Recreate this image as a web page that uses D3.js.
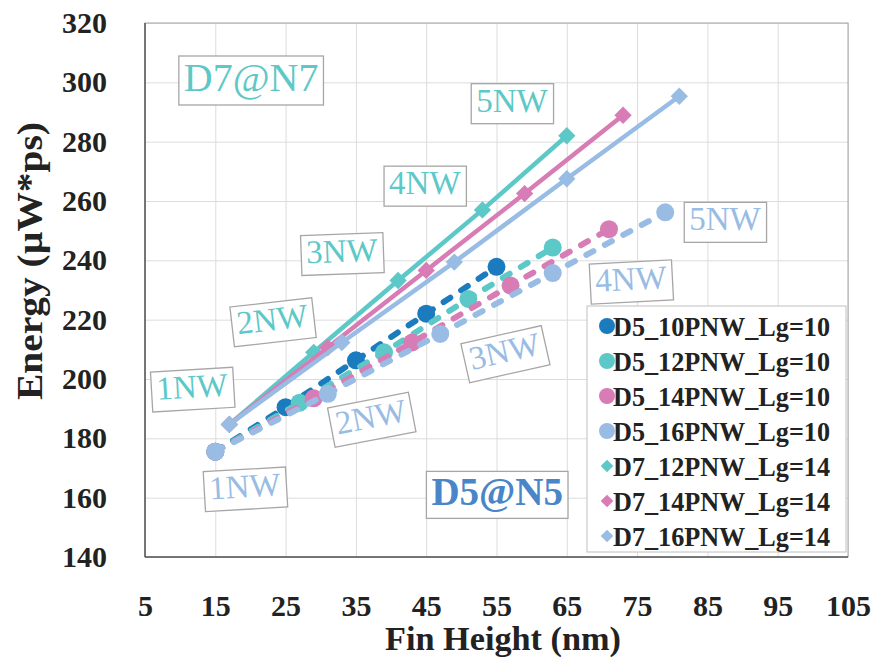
<!DOCTYPE html>
<html>
<head>
<meta charset="utf-8">
<script src="https://cdn.jsdelivr.net/npm/d3@7/dist/d3.min.js"></script>
<style>
body { margin: 0; background: #fff; }
text { font-family: "Liberation Serif", "DejaVu Serif", serif; }
</style>
</head>
<body>
<svg id="chart" width="878" height="659"></svg>
<script>
// axis ticks
var xTicks = [5, 15, 25, 35, 45, 55, 65, 75, 85, 95, 105];
var yTicks = [140, 160, 180, 200, 220, 240, 260, 280, 300, 320];

// series (fin height in nm, energy in uW*ps)
var names = ["D5_10PNW_Lg=10", "D5_12PNW_Lg=10", "D5_14PNW_Lg=10", "D5_16PNW_Lg=10",
	"D7_12PNW_Lg=14", "D7_14PNW_Lg=14", "D7_16PNW_Lg=14"];
var colors = ["#1a7cbf", "#5dc8c8", "#d87cb5", "#98bce4", "#5dc8c8", "#d87cb5", "#98bce4"];

var finD5_10 = [15, 25, 35, 45, 55];
var finD5_12 = [15, 27, 39, 51, 63];
var finD5_14 = [15, 29, 43, 57, 71];
var finD5_16 = [15, 31, 47, 63, 79];
var finD7_12 = [17, 29, 41, 53, 65];
var finD7_14 = [17, 31, 45, 59, 73];
var finD7_16 = [17, 33, 49, 65, 81];

var energyD5_10 = [175.5, 190.5, 206.3, 222.0, 237.8];
var energyD5_12 = [175.5, 192.0, 209.0, 227.0, 244.3];
var energyD5_14 = [175.5, 193.5, 212.3, 231.5, 250.5];
var energyD5_16 = [175.5, 195.0, 215.2, 235.7, 256.2];
var energyD7_12 = [184.7, 209.0, 233.2, 257.0, 282.0];
var energyD7_14 = [184.7, 210.6, 236.6, 262.5, 288.9];
var energyD7_16 = [184.7, 212.3, 239.4, 267.5, 295.3];

var fins = [finD5_10, finD5_12, finD5_14, finD5_16, finD7_12, finD7_14, finD7_16];
var energies = [energyD5_10, energyD5_12, energyD5_14, energyD5_16, energyD7_12, energyD7_14, energyD7_16];

// text boxes on the plot: [text, fin, energy, rotation, color, size, bold]
var notes = [
	["D7@N7", 20.1, 301.8, 0, "#5dc8c8", 40, false],
	["1NW", 11.7, 197.6, -3.3, "#5dc8c8", 33, false],
	["2NW", 23.1, 220.3, -6.5, "#5dc8c8", 33, false],
	["3NW", 33.0, 243.3, -2, "#5dc8c8", 33, false],
	["4NW", 44.8, 266.2, 0, "#5dc8c8", 33, false],
	["5NW", 57.2, 294.0, 0, "#5dc8c8", 33, false],
	["1NW", 19.2, 164.0, -3.3, "#98bce4", 33, false],
	["2NW", 37.1, 187.4, -10.9, "#98bce4", 33, false],
	["3NW", 56.1, 209.5, -12.7, "#98bce4", 33, false],
	["4NW", 74.1, 233.9, -3, "#98bce4", 33, false],
	["5NW", 87.5, 254.0, 0, "#98bce4", 33, false],
	["D5@N5", 55.1, 162.0, 0, "#4a85c8", 39, true]
];

var svg = d3.select("#chart");
var margin = {top: 23, right: 30, bottom: 102, left: 145};
var width = 878 - margin.left - margin.right;
var height = 659 - margin.top - margin.bottom;

var x = d3.scaleLinear().domain([5, 105]).range([0, width]);
var y = d3.scaleLinear().domain([140, 320]).range([height, 0]);

var g = svg.append("g")
	.attr("transform", "translate(" + margin.left + "," + margin.top + ")");

// grid
g.append("g")
	.attr("transform", "translate(0," + height + ")")
	.call(d3.axisBottom(x).tickValues(xTicks).tickSize(-height).tickFormat(""))
	.call(s => s.select(".domain").remove())
	.selectAll("line").attr("stroke", "#dcdcdc");
g.append("g")
	.call(d3.axisLeft(y).tickValues(yTicks).tickSize(-width).tickFormat(""))
	.call(s => s.select(".domain").remove())
	.selectAll("line").attr("stroke", "#dcdcdc");

// frame
g.append("rect")
	.attr("width", width).attr("height", height)
	.attr("fill", "none").attr("stroke", "#a6a6a6");
g.append("line").attr("x1", 0).attr("x2", 0).attr("y1", 0).attr("y2", height)
	.attr("stroke", "#595959").attr("stroke-width", 1.5);
g.append("line").attr("x1", 0).attr("x2", width).attr("y1", height).attr("y2", height)
	.attr("stroke", "#595959").attr("stroke-width", 1.5);

// tick labels
var xAxis = g.append("g")
	.attr("transform", "translate(0," + height + ")")
	.call(d3.axisBottom(x).tickValues(xTicks).tickSize(0).tickPadding(38));
xAxis.select(".domain").remove();
xAxis.selectAll("text")
	.attr("font-size", 30).attr("font-weight", "bold").attr("fill", "#222");

var yAxis = g.append("g")
	.call(d3.axisLeft(y).tickValues(yTicks).tickSize(0).tickPadding(38));
yAxis.select(".domain").remove();
yAxis.selectAll("text")
	.attr("font-size", 30).attr("font-weight", "bold").attr("fill", "#222");

// axis titles
svg.append("text")
	.attr("x", 503).attr("y", 650)
	.attr("text-anchor", "middle")
	.attr("font-size", 33).attr("font-weight", "bold").attr("fill", "#222")
	.attr("textLength", 236).attr("lengthAdjust", "spacingAndGlyphs")
	.text("Fin Height (nm)");
svg.append("text")
	.attr("transform", "translate(42,261) rotate(-90)")
	.attr("text-anchor", "middle")
	.attr("font-size", 35).attr("font-weight", "bold").attr("fill", "#222")
	.attr("textLength", 278).attr("lengthAdjust", "spacingAndGlyphs")
	.text("Energy (µW*ps)");

// text boxes
notes.forEach(function(n) {
	var t = g.append("g")
		.attr("transform", "translate(" + x(n[1]) + "," + y(n[2]) + ") rotate(" + n[3] + ")");
	var rect = t.append("rect").attr("fill", "#fff").attr("stroke", "#a6a6a6").attr("stroke-width", 1.3);
	var txt = t.append("text")
		.attr("text-anchor", "middle").attr("dy", "0.35em")
		.attr("font-size", n[5]).attr("font-weight", n[6] ? "bold" : "normal")
		.attr("fill", n[4]).text(n[0]);
	var bb = txt.node().getBBox();
	rect.attr("x", bb.x - 5).attr("y", bb.y + 1).attr("width", bb.width + 10).attr("height", bb.height + 4);
});

// series lines and markers
var line = d3.line().x(d => x(d[0])).y(d => y(d[1]));
var diamond = d3.symbol().type(d3.symbolSquare).size(150);

names.forEach(function(name, i) {
	var pts = fins[i].map((f, j) => [f, energies[i][j]]);
	var dashed = name.indexOf("D5") === 0;
	g.append("path")
		.datum(pts)
		.attr("d", line)
		.attr("fill", "none")
		.attr("stroke", colors[i])
		.attr("stroke-width", dashed ? 6 : 4.5)
		.attr("stroke-linecap", dashed ? "round" : "butt")
		.attr("stroke-dasharray", dashed ? "8,13" : null);
	if (dashed) {
		g.selectAll(null).data(pts).enter().append("circle")
			.attr("cx", d => x(d[0])).attr("cy", d => y(d[1]))
			.attr("r", 9).attr("fill", colors[i]);
	} else {
		g.selectAll(null).data(pts).enter().append("path")
			.attr("d", diamond)
			.attr("transform", d => "translate(" + x(d[0]) + "," + y(d[1]) + ") rotate(45)")
			.attr("fill", colors[i]);
	}
});

// legend
var legend = svg.append("g").attr("transform", "translate(587,306)");
legend.append("rect")
	.attr("width", 259).attr("height", 246)
	.attr("fill", "#fff").attr("stroke", "#bfbfbf");
names.forEach(function(name, i) {
	var row = legend.append("g").attr("transform", "translate(0," + (20 + i * 35) + ")");
	if (name.indexOf("D5") === 0) {
		row.append("circle").attr("cx", 20).attr("cy", 0).attr("r", 8).attr("fill", colors[i]);
	} else {
		row.append("path").attr("d", d3.symbol().type(d3.symbolSquare).size(80))
			.attr("transform", "translate(20,0) rotate(45)").attr("fill", colors[i]);
	}
	row.append("text")
		.attr("x", 26).attr("dy", "0.35em")
		.attr("font-size", 28).attr("font-weight", "bold").attr("fill", "#222")
		.attr("textLength", 217).attr("lengthAdjust", "spacingAndGlyphs")
		.text(name);
});
</script>
</body>
</html>
